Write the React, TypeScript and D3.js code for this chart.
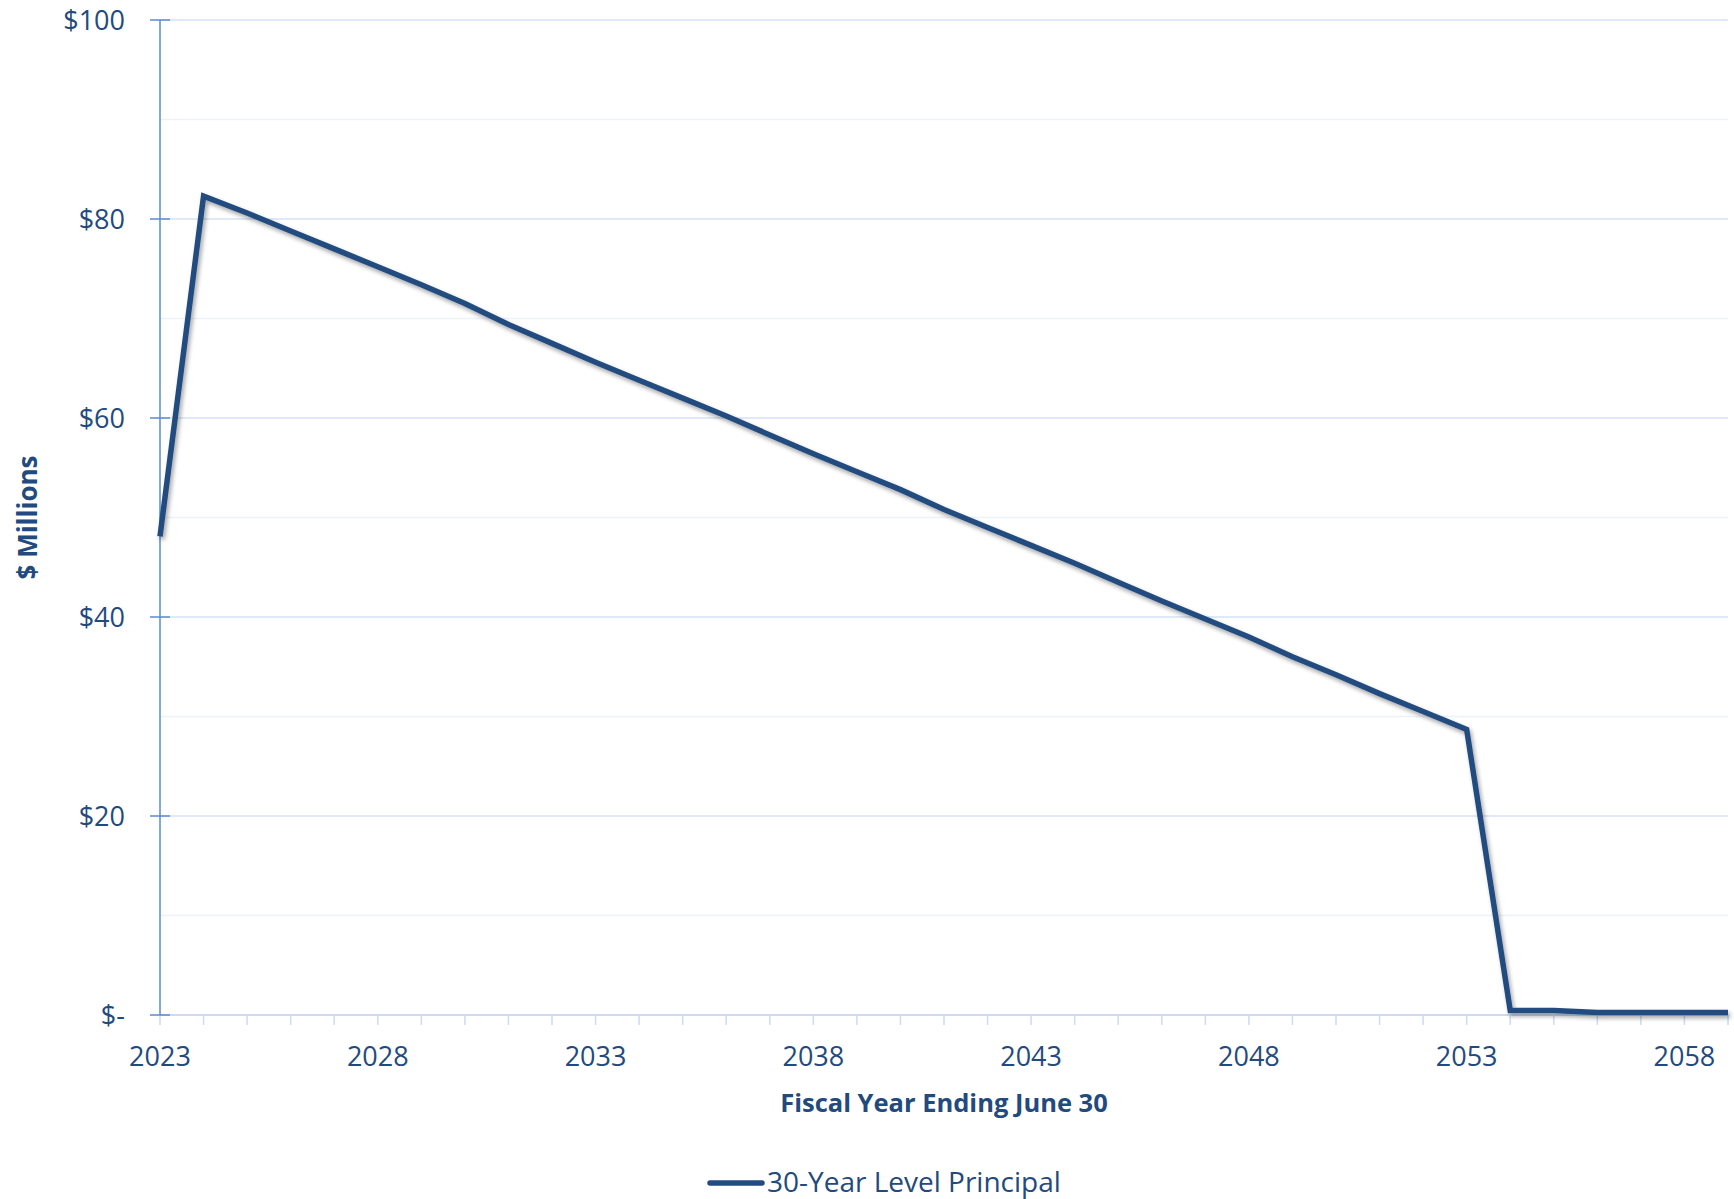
import React from "react";
import * as d3 from "d3";

const years: number[] = [
  2023, 2024, 2025, 2026, 2027, 2028, 2029, 2030, 2031, 2032, 2033, 2034, 2035,
  2036, 2037, 2038, 2039, 2040, 2041, 2042, 2043, 2044, 2045, 2046, 2047, 2048,
  2049, 2050, 2051, 2052, 2053, 2054, 2055, 2056, 2057, 2058, 2059,
];
const principal: number[] = [
  48.1, 82.3, 80.6, 78.8, 77.0, 75.2, 73.4, 71.5, 69.4, 67.5, 65.6, 63.8, 62.0,
  60.2, 58.3, 56.4, 54.6, 52.8, 50.8, 49.0, 47.2, 45.4, 43.5, 41.6, 39.8, 38.0,
  36.0, 34.2, 32.3, 30.5, 28.7, 0.45, 0.45, 0.25, 0.25, 0.25, 0.25,
];
const yMajorTicks: number[] = [0, 20, 40, 60, 80, 100];
const yMinorTicks: number[] = [10, 30, 50, 70, 90];
const xLabelYears: number[] = [2023, 2028, 2033, 2038, 2043, 2048, 2053, 2058];
const seriesName = "30-Year Level Principal";
const xTitle = "Fiscal Year Ending June 30";
const yTitle = "$ Millions";

const W = 1734;
const H = 1199;
const left = 160;
const right = 1728;
const top = 20;
const bottom = 1015;
const textColor = "#234a7e";
const lineColor = "#224c80";
const font = "'Open Sans', 'Noto Sans', sans-serif";

export default function App() {
  const x = d3.scaleLinear().domain([2023, 2059]).range([left, right]);
  const y = d3.scaleLinear().domain([0, 100]).range([bottom, top]);
  const data = years.map((yr, i) => ({ yr, v: principal[i] }));
  const line = d3
    .line<{ yr: number; v: number }>()
    .x((d) => x(d.yr))
    .y((d) => y(d.v));
  const fmt = (v: number) => (v === 0 ? "$-" : `$${v}`);

  return (
    <svg
      width={W}
      height={H}
      style={{ position: "absolute", left: 0, top: 0, background: "#fff" }}
      fontFamily={font}
    >
      <defs>
        <filter id="shadow" x="-10%" y="-10%" width="120%" height="120%">
          <feDropShadow dx="2" dy="3" stdDeviation="2" floodColor="#000" floodOpacity="0.35" />
        </filter>
      </defs>
      {yMinorTicks.map((t) => (
        <line key={"mn" + t} x1={left} x2={right} y1={y(t)} y2={y(t)} stroke="#edf2fa" strokeWidth={1.5} />
      ))}
      {yMajorTicks.filter((t) => t > 0).map((t) => (
        <line key={"mj" + t} x1={left} x2={right} y1={y(t)} y2={y(t)} stroke="#d5e2f5" strokeWidth={1.5} />
      ))}
      <line x1={left} x2={right} y1={bottom} y2={bottom} stroke="#cbdbf1" strokeWidth={2} />
      {years.map((yr) => (
        <line key={"xt" + yr} x1={x(yr)} x2={x(yr)} y1={bottom} y2={bottom + 10} stroke="#cbdbf1" strokeWidth={1.5} />
      ))}
      <line x1={left} x2={left} y1={top} y2={bottom} stroke="#5b8bd0" strokeWidth={1.5} />
      {yMajorTicks.map((t) => (
        <line key={"yt" + t} x1={left - 10} x2={left + 10} y1={y(t)} y2={y(t)} stroke="#5b8bd0" strokeWidth={1.5} />
      ))}
      {yMajorTicks.map((t) => (
        <text key={"yl" + t} x={125} y={y(t)} dy="0.36em" textAnchor="end" fontSize={27} fill={textColor}>
          {fmt(t)}
        </text>
      ))}
      {xLabelYears.map((yr) => (
        <text key={"xl" + yr} x={x(yr)} y={1066} textAnchor="middle" fontSize={27} fill={textColor}>
          {yr}
        </text>
      ))}
      <path d={line(data) || ""} fill="none" stroke={lineColor} strokeWidth={5.5} strokeLinejoin="miter" filter="url(#shadow)" />
      <text x={(left + right) / 2} y={1112} textAnchor="middle" fontSize={25.5} fontWeight="bold" fill={textColor}>
        {xTitle}
      </text>
      <text
        transform={`translate(37, ${(top + bottom) / 2}) rotate(-90)`}
        textAnchor="middle"
        fontSize={26}
        fontWeight="bold"
        fill={textColor}
      >
        {yTitle}
      </text>
      <line x1={710} x2={762} y1={1183} y2={1183} stroke={lineColor} strokeWidth={5.5} strokeLinecap="round" />
      <text x={767} y={1192} fontSize={28} fill={textColor}>
        {seriesName}
      </text>
    </svg>
  );
}
